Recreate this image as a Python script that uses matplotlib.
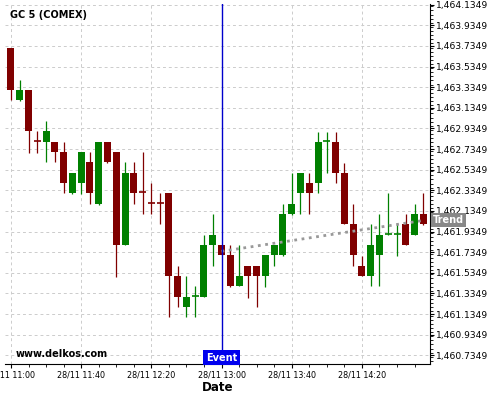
import numpy as np
import pandas as pd
import matplotlib
matplotlib.use('Agg')
import matplotlib.pyplot as plt
import matplotlib.dates as mdates
from matplotlib.ticker import FixedLocator, MultipleLocator, FuncFormatter

# 5 minute candles, 28/11 from 11:00
times = pd.date_range('2023-11-28 11:00', periods=48, freq='5min')
opens = [1463.718, 1463.214, 1463.307, 1462.813, 1462.806, 1462.803, 1462.706, 1462.309,
         1462.408, 1462.609, 1462.202, 1462.803, 1462.706, 1461.807, 1462.503, 1462.315,
         1462.209, 1462.209, 1462.309, 1461.506, 1461.206, 1461.306, 1461.303, 1461.804,
         1461.804, 1461.710, 1461.406, 1461.600, 1461.600, 1461.503, 1461.707, 1461.707,
         1462.105, 1462.311, 1462.405, 1462.408, 1462.810, 1462.803, 1462.505, 1462.005,
         1461.603, 1461.506, 1461.707, 1461.911, 1461.911, 1462.008, 1461.901, 1462.105]
highs = [1463.718, 1463.405, 1463.307, 1462.910, 1463.007, 1462.803, 1462.800, 1462.503,
         1462.706, 1462.706, 1462.803, 1462.803, 1462.706, 1462.609, 1462.609, 1462.703,
         1462.403, 1462.306, 1462.309, 1461.600, 1461.503, 1461.406, 1461.898, 1462.102,
         1461.804, 1461.804, 1461.800, 1461.600, 1461.600, 1461.707, 1461.804, 1462.202,
         1462.500, 1462.500, 1462.500, 1462.903, 1462.903, 1462.903, 1462.602, 1462.199,
         1461.700, 1462.005, 1462.102, 1462.306, 1462.005, 1462.102, 1462.199, 1462.306]
lows = [1463.211, 1463.201, 1462.699, 1462.699, 1462.606, 1462.606, 1462.306, 1462.302,
        1462.302, 1462.199, 1462.195, 1462.600, 1461.497, 1461.800, 1462.199, 1462.102,
        1462.102, 1462.005, 1461.103, 1461.200, 1461.103, 1461.103, 1461.297, 1461.600,
        1461.710, 1461.400, 1461.406, 1461.293, 1461.200, 1461.400, 1461.597, 1461.700,
        1462.095, 1462.102, 1462.102, 1462.306, 1462.500, 1462.405, 1462.011, 1461.603,
        1461.506, 1461.403, 1461.403, 1461.900, 1461.700, 1461.800, 1461.901, 1462.000]
closes = [1463.311, 1463.307, 1462.913, 1462.811, 1462.910, 1462.706, 1462.408, 1462.503,
          1462.706, 1462.311, 1462.803, 1462.609, 1461.807, 1462.503, 1462.311, 1462.313,
          1462.207, 1462.207, 1461.506, 1461.303, 1461.303, 1461.308, 1461.804, 1461.901,
          1461.710, 1461.406, 1461.503, 1461.503, 1461.503, 1461.707, 1461.804, 1462.105,
          1462.202, 1462.500, 1462.311, 1462.803, 1462.812, 1462.505, 1462.011, 1461.710,
          1461.506, 1461.804, 1461.901, 1461.913, 1461.913, 1461.804, 1462.105, 1462.008]

trend_times = pd.to_datetime(['2023-11-28 13:00', '2023-11-28 14:56'])
trend_vals = [1461.743, 1462.045]
event_time = pd.Timestamp('2023-11-28 13:00')

yticks = [1460.7349 + 0.2 * k for k in range(18)]
xtick_times = pd.to_datetime(['2023-11-28 11:00', '2023-11-28 11:40', '2023-11-28 12:20',
                              '2023-11-28 13:00', '2023-11-28 13:40', '2023-11-28 14:20'])
xtick_labels = ['28/11 11:00', '28/11 11:40', '28/11 12:20', '28/11 13:00',
                '28/11 13:40', '28/11 14:20']

up_col = '#008000'
down_col = '#800000'

fig = plt.figure(figsize=(5, 4), dpi=100)
ax = fig.add_axes([0.01, 0.09, 0.85, 0.9])

x = mdates.date2num(times)
w = 4 / 1440
for xi, o, h, l, c in zip(x, opens, highs, lows, closes):
    col = up_col if c >= o else down_col
    ax.vlines(xi, l, h, color=col, lw=0.9, zorder=3)
    if abs(c - o) < 0.01:
        ax.hlines(o, xi - w / 2, xi + w / 2, color=col, lw=1.2, zorder=3)
    else:
        ax.bar(xi, abs(c - o), bottom=min(o, c), width=w, color=col, zorder=3, linewidth=0)

ax.plot(mdates.date2num(trend_times), trend_vals, color='#999999', lw=2, ls=':', zorder=4)
ax.axvline(mdates.date2num(event_time), color='#0000cc', lw=1, zorder=5)

x0 = x[0]
ax.set_xlim(x0 - 3.4 / 1440, x0 + 238.8 / 1440)
ax.set_ylim(1460.650, 1464.142)

ax.xaxis.set_major_locator(FixedLocator(mdates.date2num(xtick_times)))
ax.xaxis.set_minor_locator(MultipleLocator(10 / 1440))
ax.set_xticklabels(xtick_labels, fontsize=5.8)
ax.yaxis.tick_right()
ax.set_yticks(yticks)
ax.yaxis.set_minor_locator(MultipleLocator(0.04))
ax.yaxis.set_major_formatter(FuncFormatter(lambda v, p: f'{v:,.4f}'))
ax.tick_params(axis='y', labelsize=6.6, length=3, pad=1)
ax.tick_params(axis='y', which='minor', length=2)
ax.tick_params(axis='x', length=3, pad=2)
ax.tick_params(axis='x', which='minor', length=2)

ax.grid(True, which='major', color='#cccccc', ls=(0, (3, 3)), lw=0.7)
ax.set_axisbelow(True)
for s in ['left', 'top']:
    ax.spines[s].set_visible(False)

ax.set_xlabel('Date', fontsize=8.6, fontweight='bold', labelpad=1)

ax.text(0.012, 0.97, 'GC 5 (COMEX)', transform=ax.transAxes, fontsize=7,
        fontweight='bold', va='center', ha='left')
ax.text(0.024, 0.028, 'www.delkos.com', transform=ax.transAxes, fontsize=7,
        fontweight='bold', va='center', ha='left')

ax.text(mdates.date2num(event_time), 0.004, 'Event', transform=ax.get_xaxis_transform(),
        fontsize=7, fontweight='bold', color='white', ha='center', va='bottom', zorder=6,
        bbox=dict(boxstyle='square,pad=0.25', fc='#0000ee', ec='none'))
ax.text(1.006, trend_vals[-1], 'Trend', transform=ax.get_yaxis_transform(),
        fontsize=7, fontweight='bold', color='white', ha='left', va='center', zorder=6,
        clip_on=False, bbox=dict(boxstyle='square,pad=0.2', fc='#888888', ec='none'))

fig.savefig('out.png', dpi=100)
